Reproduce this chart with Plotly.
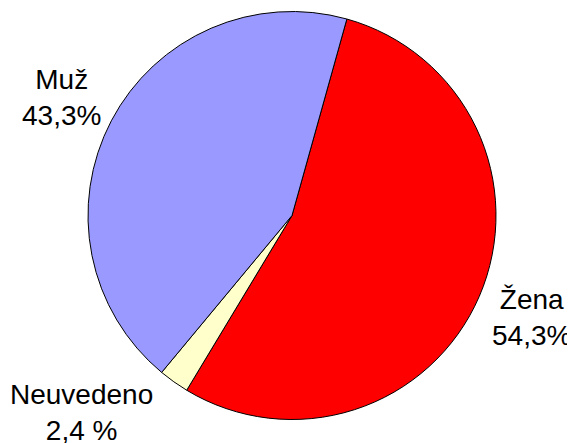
import plotly.graph_objects as go

W, H = 575, 443
OFF = 8  # browser default body margin

categories = ["Žena", "Neuvedeno", "Muž"]
values = [54.3, 2.4, 43.3]
value_labels = ["54,3%", "2,4 %", "43,3%"]
colors = ["#FF0000", "#FFFFCC", "#9999FF"]

# label centre positions in page pixels (x, y from top)
label_pos = [(531, 317), (81, 412), (61, 98)]


def px_x(x):
    return (x - OFF) / W


def px_y(y):
    return 1 - (y - OFF) / H


fig = go.Figure(go.Pie(
    labels=categories,
    values=values,
    sort=False,
    direction="clockwise",
    rotation=15.6,
    marker=dict(colors=colors, line=dict(color="#000000", width=1)),
    textinfo="none",
    hoverinfo="label+percent",
    showlegend=False,
    domain=dict(x=[px_x(88), px_x(496)], y=[px_y(419.5), px_y(11.5)]),
))

for cat, vl, (px, py) in zip(categories, value_labels, label_pos):
    fig.add_annotation(
        text=f"{cat}<br>{vl}",
        x=px_x(px), y=px_y(py), xref="paper", yref="paper",
        xanchor="center", yanchor="middle", showarrow=False,
        font=dict(family="Liberation Sans, Arial, sans-serif", size=28, color="#000000"),
        align="center",
    )

fig.update_layout(
    width=W, height=H,
    margin=dict(l=0, r=0, t=0, b=0),
    paper_bgcolor="#FFFFFF",
    plot_bgcolor="#FFFFFF",
)

fig.write_html("out.html")
